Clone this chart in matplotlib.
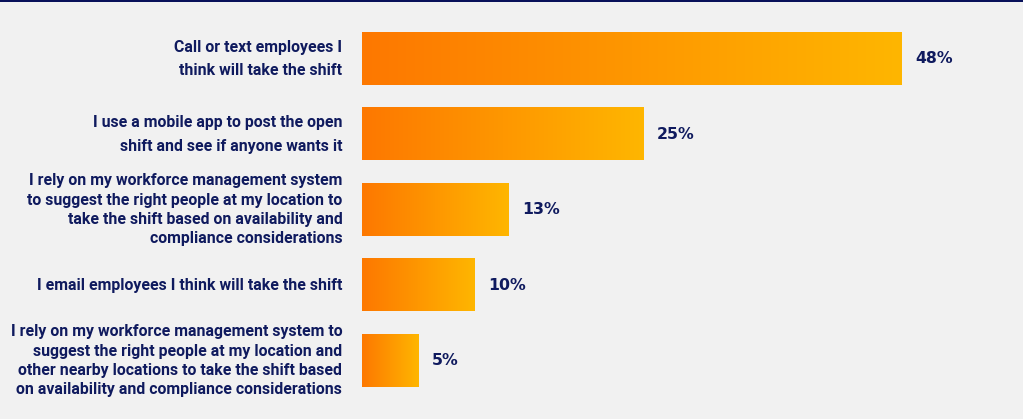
import numpy as np
import matplotlib.pyplot as plt
from matplotlib.colors import LinearSegmentedColormap
from matplotlib.patches import Rectangle

labels = [
    "Call or text employees I\nthink will take the shift",
    "I use a mobile app to post the open\nshift and see if anyone wants it",
    "I rely on my workforce management system\nto suggest the right people at my location to\ntake the shift based on availability and\ncompliance considerations",
    "I email employees I think will take the shift",
    "I rely on my workforce management system to\nsuggest the right people at my location and\nother nearby locations to take the shift based\non availability and compliance considerations",
]
values = [48, 25, 13, 10, 5]
line_gaps = [1.72, 1.72, 1.36, 1.36, 1.36]

navy = "#0f1a5e"
bg = "#f1f1f1"
grad = LinearSegmentedColormap.from_list("bar", ["#fd7800", "#ffb600"])

fig = plt.figure(figsize=(10.23, 4.19), dpi=100, facecolor=bg)
# axes spans the bar area: 11.25 px per percent, 75.5 px between bars
ax = fig.add_axes([362 / 1023, 0, 652 / 1023, 1])
ax.set_facecolor(bg)
ax.set_xlim(0, 652 / 11.25)
ax.set_ylim(4.77, -0.78)
ax.axis("off")

h = 0.69
ramp = np.linspace(0, 1, 256).reshape(1, -1)
for i, (lab, v) in enumerate(zip(labels, values)):
    ax.imshow(ramp, cmap=grad, aspect="auto", interpolation="bilinear",
              extent=[0, v, i + h / 2, i - h / 2], zorder=2)
    ax.text(v + 1.2, i, f"{v}%", ha="left", va="center", color=navy,
            fontsize=11.3, fontweight="bold", family="DejaVu Sans")
    ax.text(-1.75, i, lab, ha="right", va="center", color=navy,
            fontsize=11.45, fontweight="semibold", family="Roboto",
            linespacing=line_gaps[i])

# dark rule along the top edge
fig.add_artist(Rectangle((0, 1 - 2.5 / 419), 1, 2.5 / 419,
                         transform=fig.transFigure, color="#08115a", lw=0))

fig.savefig("out.png", dpi=100, facecolor=bg)
